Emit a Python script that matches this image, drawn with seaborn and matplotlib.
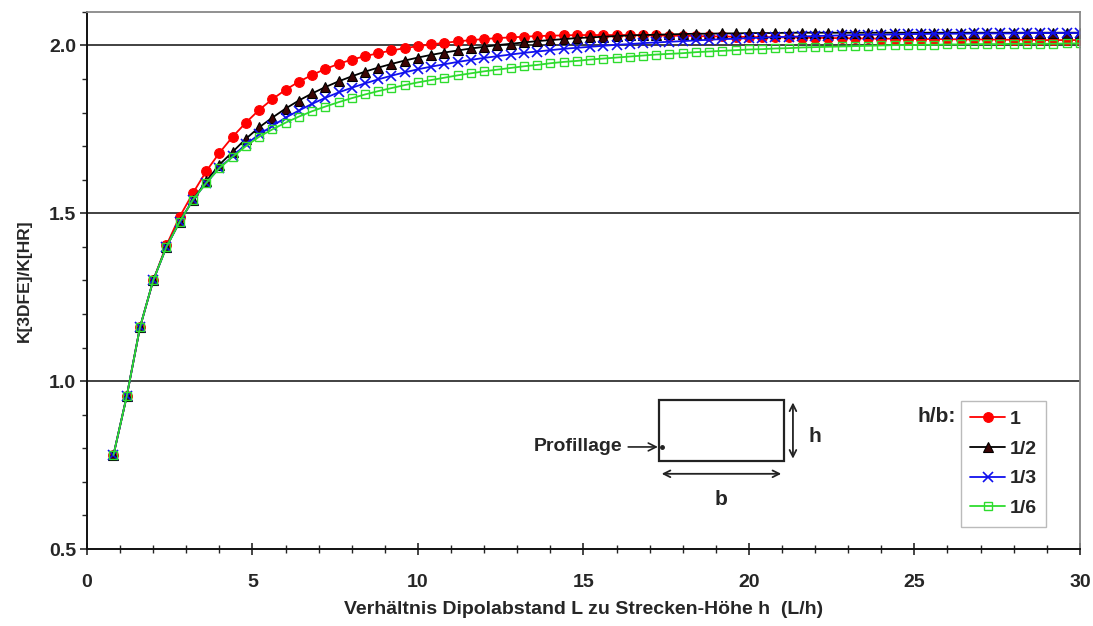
import numpy as np
import pandas as pd
import matplotlib
matplotlib.use("Agg")
import matplotlib.pyplot as plt
from matplotlib.ticker import MultipleLocator
import seaborn as sns

# ---- data -------------------------------------------------------------
x_ratio = [0.8, 1.2, 1.6, 2.0, 2.4, 2.8, 3.2, 3.6, 4.0, 4.4,
           4.8, 5.2, 5.6, 6.0, 6.4, 6.8, 7.2, 7.6, 8.0, 8.4,
           8.8, 9.2, 9.6, 10.0, 10.4, 10.8, 11.2, 11.6, 12.0, 12.4,
           12.8, 13.2, 13.6, 14.0, 14.4, 14.8, 15.2, 15.6, 16.0, 16.4,
           16.8, 17.2, 17.6, 18.0, 18.4, 18.8, 19.2, 19.6, 20.0, 20.4,
           20.8, 21.2, 21.6, 22.0, 22.4, 22.8, 23.2, 23.6, 24.0, 24.4,
           24.8, 25.2, 25.6, 26.0, 26.4, 26.8, 27.2, 27.6, 28.0, 28.4,
           28.8, 29.2, 29.6, 30.0]

k_hb_1 = [0.780, 0.955, 1.160, 1.300, 1.405, 1.490, 1.560, 1.625, 1.680, 1.728,
          1.770, 1.808, 1.840, 1.868, 1.892, 1.912, 1.930, 1.945, 1.958, 1.968,
          1.977, 1.985, 1.992, 1.998, 2.003, 2.008, 2.012, 2.016, 2.019, 2.022,
          2.024, 2.026, 2.028, 2.029, 2.030, 2.031, 2.031, 2.031, 2.031, 2.031,
          2.030, 2.030, 2.029, 2.029, 2.028, 2.027, 2.027, 2.026, 2.025, 2.025,
          2.024, 2.024, 2.023, 2.023, 2.022, 2.022, 2.021, 2.021, 2.020, 2.020,
          2.020, 2.019, 2.019, 2.019, 2.018, 2.018, 2.018, 2.017, 2.017, 2.017,
          2.016, 2.016, 2.016, 2.016]

k_hb_1_2 = [0.780, 0.955, 1.160, 1.300, 1.400, 1.475, 1.540, 1.595, 1.645, 1.683,
            1.722, 1.756, 1.785, 1.812, 1.836, 1.857, 1.876, 1.893, 1.908, 1.922,
            1.934, 1.945, 1.955, 1.964, 1.972, 1.979, 1.985, 1.991, 1.996, 2.001,
            2.005, 2.009, 2.013, 2.016, 2.019, 2.022, 2.024, 2.026, 2.028, 2.030,
            2.031, 2.032, 2.033, 2.034, 2.035, 2.035, 2.036, 2.036, 2.037, 2.037,
            2.037, 2.038, 2.038, 2.038, 2.038, 2.038, 2.038, 2.038, 2.038, 2.038,
            2.038, 2.038, 2.038, 2.038, 2.038, 2.038, 2.038, 2.038, 2.038, 2.038,
            2.038, 2.038, 2.038, 2.038]

k_hb_1_3 = [0.780, 0.955, 1.160, 1.300, 1.400, 1.475, 1.540, 1.590, 1.635, 1.670,
            1.705, 1.735, 1.760, 1.785, 1.806, 1.826, 1.844, 1.860, 1.874, 1.887,
            1.899, 1.910, 1.920, 1.929, 1.937, 1.944, 1.951, 1.957, 1.963, 1.968,
            1.973, 1.978, 1.982, 1.986, 1.990, 1.993, 1.996, 1.999, 2.002, 2.004,
            2.007, 2.009, 2.011, 2.013, 2.015, 2.017, 2.019, 2.020, 2.022, 2.023,
            2.025, 2.026, 2.027, 2.028, 2.029, 2.030, 2.031, 2.032, 2.032, 2.033,
            2.034, 2.034, 2.035, 2.035, 2.035, 2.036, 2.036, 2.036, 2.036, 2.037,
            2.037, 2.037, 2.037, 2.037]

k_hb_1_6 = [0.780, 0.955, 1.160, 1.300, 1.400, 1.475, 1.540, 1.590, 1.635, 1.668,
            1.700, 1.728, 1.750, 1.770, 1.788, 1.804, 1.818, 1.831, 1.843, 1.854,
            1.864, 1.873, 1.882, 1.890, 1.897, 1.904, 1.911, 1.917, 1.923, 1.928,
            1.933, 1.938, 1.942, 1.947, 1.951, 1.954, 1.958, 1.961, 1.964, 1.967,
            1.970, 1.973, 1.975, 1.977, 1.980, 1.982, 1.984, 1.986, 1.988, 1.989,
            1.991, 1.992, 1.994, 1.995, 1.996, 1.997, 1.998, 1.999, 2.000, 2.001,
            2.001, 2.002, 2.002, 2.003, 2.003, 2.004, 2.004, 2.004, 2.005, 2.005,
            2.005, 2.005, 2.006, 2.006]

series_labels = ["1", "1/2", "1/3", "1/6"]

rows = []
for lab, vals in zip(series_labels, [k_hb_1, k_hb_1_2, k_hb_1_3, k_hb_1_6]):
    for xv, yv in zip(x_ratio, vals):
        rows.append({"L/h": xv, "K": yv, "h/b": lab})
df = pd.DataFrame(rows)

# ---- styling ----------------------------------------------------------
sns.set_theme(style="white")
plt.rcParams["font.family"] = ["Liberation Sans", "DejaVu Sans"]
plt.rcParams["font.weight"] = "bold"

styles = {
    "1":   dict(color="#ff0000", marker="o", markersize=7,
                markerfacecolor="#ff0000", markeredgecolor="#ff0000", markeredgewidth=0.8),
    "1/2": dict(color="#000000", marker="^", markersize=7,
                markerfacecolor="#3a0505", markeredgecolor="#000000", markeredgewidth=0.8),
    "1/3": dict(color="#1010ee", marker="x", markersize=7,
                markerfacecolor="#1010ee", markeredgecolor="#1010ee", markeredgewidth=1.2),
    "1/6": dict(color="#2edc2e", marker="s", markersize=6,
                markerfacecolor="none", markeredgecolor="#2edc2e", markeredgewidth=1.0),
}

fig = plt.figure(figsize=(10.93, 6.26), dpi=100)
ax = fig.add_axes([0.0796, 0.123, 0.9084, 0.858])

for lab in series_labels:
    sub = df[df["h/b"] == lab]
    sns.lineplot(data=sub, x="L/h", y="K", ax=ax, linewidth=1.3,
                 legend=False, label=lab, **styles[lab])

ax.set_xlim(0, 30)
ax.set_ylim(0.5, 2.1)
ax.xaxis.set_major_locator(MultipleLocator(5))
ax.xaxis.set_minor_locator(MultipleLocator(1))
ax.yaxis.set_minor_locator(MultipleLocator(0.1))
ax.set_yticks([0.5, 1.0, 1.5, 2.0])
ax.set_yticklabels(["0.5", "1.0", "1.5", "2.0"])

ax.tick_params(axis="x", which="major", direction="inout", length=8, width=1.2,
               labelsize=14, pad=14)
ax.tick_params(axis="x", which="minor", direction="inout", length=6, width=1.0)
ax.tick_params(axis="y", which="major", direction="out", length=5, width=1.2,
               labelsize=14, pad=3)
ax.tick_params(axis="y", which="minor", direction="out", length=3.5, width=1.0)
ax.tick_params(bottom=True, left=True, which="both")
for t in ax.get_xticklabels() + ax.get_yticklabels():
    t.set_fontweight("bold")

ax.grid(False)
for yv in [1.0, 1.5, 2.0]:
    ax.axhline(yv, color="#333333", linewidth=1.3, zorder=0.5)

for side in ["left", "bottom"]:
    ax.spines[side].set_color("#111111")
    ax.spines[side].set_linewidth(1.4)
for side in ["top", "right"]:
    ax.spines[side].set_color("#888888")
    ax.spines[side].set_linewidth(1.3)

ax.set_xlabel("Verhältnis Dipolabstand L zu Strecken-Höhe h  (L/h)",
              fontsize=14, fontweight="bold", labelpad=7)
ax.set_ylabel("K[3DFE]/K[HR]", fontsize=12.5, fontweight="bold", labelpad=12)

# legend
handles = ax.get_lines()[:4]
leg = ax.legend(handles, series_labels, loc="upper right",
                bbox_to_anchor=(0.966, 0.276), borderaxespad=0,
                frameon=True, fancybox=False,
                edgecolor="#aaaaaa", handlelength=1.8,
                handletextpad=0.2, borderpad=0.5, labelspacing=0.62,
                prop={"weight": "bold", "size": 14})
leg.get_frame().set_linewidth(1.0)
ax.text(0.856, 0.246, "h/b:", transform=ax.transAxes, fontsize=15,
        fontweight="bold", ha="center", va="center")

# inset sketch of the tunnel cross section
T = ax.transAxes
ax.add_patch(plt.Rectangle((0.576, 0.163), 0.126, 0.115, transform=T,
                           fill=False, edgecolor="#222222", linewidth=1.6))
ax.annotate("", xy=(0.711, 0.278), xytext=(0.711, 0.163), xycoords=T,
            textcoords=T, arrowprops=dict(arrowstyle="<->", color="#222222", lw=1.3))
ax.annotate("", xy=(0.576, 0.140), xytext=(0.702, 0.140), xycoords=T,
            textcoords=T, arrowprops=dict(arrowstyle="<->", color="#222222", lw=1.3))
ax.text(0.733, 0.209, "h", transform=T, fontsize=15, fontweight="bold",
        ha="center", va="center")
ax.text(0.639, 0.092, "b", transform=T, fontsize=15, fontweight="bold",
        ha="center", va="center")
ax.annotate("Profillage", xy=(0.575, 0.190), xytext=(0.539, 0.190),
            xycoords=T, textcoords=T, fontsize=14, fontweight="bold",
            ha="right", va="center",
            arrowprops=dict(arrowstyle="->", color="#222222", lw=1.2,
                            shrinkA=2, shrinkB=0))
ax.plot([0.579], [0.190], marker="o", markersize=2.5, color="#222222",
        transform=T, clip_on=False)

fig.savefig("out.png", dpi=100)
